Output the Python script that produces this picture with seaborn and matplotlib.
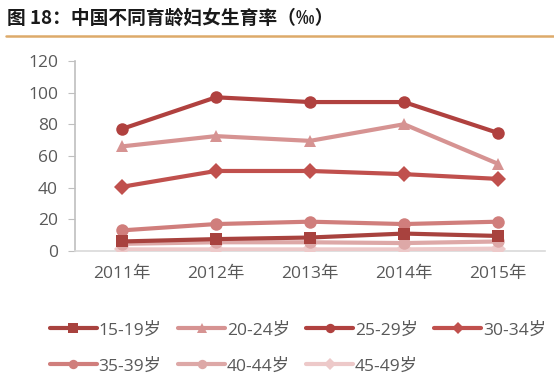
import pandas as pd
import numpy as np
import matplotlib
matplotlib.use('Agg')
import matplotlib.pyplot as plt
import seaborn as sns

## 年份 / 年龄组 / 生育率(‰)
years = ['2011年', '2012年', '2013年', '2014年', '2015年']
groups = ['15-19岁', '20-24岁', '25-29岁', '30-34岁', '35-39岁', '40-44岁', '45-49岁']

r15_19 = [6, 7.5, 8.5, 11, 9.5]
r20_24 = [66, 72.5, 69.5, 80, 55]
r25_29 = [77, 97, 94, 94, 74.5]
r30_34 = [40.5, 50.5, 50.5, 48.5, 45.5]
r35_39 = [13, 17, 18.5, 17, 18.5]
r40_44 = [4.5, 5.5, 5.5, 5, 6]
r45_49 = [1, 1, 1, 1, 1.5]

colors = ['#A8423E', '#D69392', '#B0413F', '#C0504D', '#D07E7C', '#DDA8A7', '#EDC9C9']
markers = ['s', '^', 'o', 'D', 'o', 'o', 'D']

rates = [r15_19, r20_24, r25_29, r30_34, r35_39, r40_44, r45_49]
df = pd.DataFrame({'year': years * len(groups),
                   'group': np.repeat(groups, len(years)),
                   'rate': np.concatenate(rates)})

sns.set_style('white')
plt.rcParams['font.family'] = ['Open Sans', 'Noto Sans CJK SC', 'DejaVu Sans']

fig = plt.figure(figsize=(5.54, 3.78), dpi=100)
ax = fig.add_axes([0.135, 0.336, 0.849, 0.503])

# 底部的先画，颜色深的后画
order = [6, 5, 4, 0, 3, 1, 2]
for i in order:
    sub = df[df['group'] == groups[i]]
    sns.lineplot(data=sub, x='year', y='rate', ax=ax, color=colors[i],
                 marker=markers[i], markersize=9 if markers[i] != 'D' else 8,
                 markeredgewidth=0, linewidth=3, label=groups[i],
                 sort=False, zorder=3)

ax.set_xlim(-0.5, 4.5)
ax.set_ylim(0, 120)
ax.set_yticks(range(0, 121, 20))
ax.set_xlabel('')
ax.set_ylabel('')

for s in ['top', 'right']:
    ax.spines[s].set_visible(False)
ax.spines['left'].set_color('#BFBFBF')
ax.spines['bottom'].set_color('#D9D9D9')
ax.spines['left'].set_linewidth(1.2)
ax.spines['bottom'].set_linewidth(1.2)
ax.tick_params(axis='y', length=5, color='#BFBFBF', labelsize=12.5, labelcolor='#595959', pad=7, left=True)
ax.tick_params(axis='x', length=0, labelsize=12.5, labelcolor='#595959', pad=11)

ax.get_legend().remove()
handles, labels = ax.get_legend_handles_labels()
hmap = dict(zip(labels, handles))
# 按行排列图例 (ncol=4)
leg_order = [0, 4, 1, 5, 2, 6, 3]
leg = fig.legend([hmap[groups[i]] for i in leg_order], [groups[i] for i in leg_order],
                 loc='lower left', bbox_to_anchor=(0.062, -0.032), ncol=4, frameon=False,
                 fontsize=12.5, handlelength=2.7, handletextpad=0.1,
                 columnspacing=0.95, labelspacing=1.15, markerscale=0.75)
for t in leg.get_texts():
    t.set_color('#595959')

fig.text(0.012, 0.953, '图 18：中国不同育龄妇女生育率（‰）', fontsize=13.5,
         fontweight='bold', family=['Noto Sans CJK SC', 'DejaVu Sans'],
         color='#1A1A1A', va='center')
fig.add_artist(plt.Line2D([0.01, 1.0], [0.905, 0.905], color='#DDAA6A', linewidth=1.8))

fig.savefig('out.png', dpi=100)
